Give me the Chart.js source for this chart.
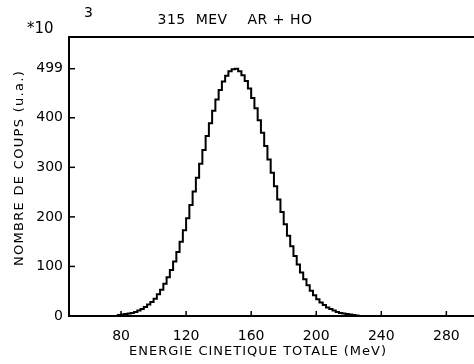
<!DOCTYPE html>
<html>
<head>
<meta charset="utf-8">
<script src="https://cdn.jsdelivr.net/npm/chart.js@4"></script>
<style>
html,body{margin:0;padding:0;background:#fff;}
#wrap{width:474px;height:364px;position:relative;}
</style>
</head>
<body>
<div id="wrap"><canvas id="c" width="474" height="364"></canvas></div>
<script>
// ---- data ----
const titleText = "315  MEV    AR + HO";
const xTitle = "ENERGIE CINETIQUE TOTALE (MeV)";
const yTitle = "NOMBRE DE COUPS (u.a.)";
const xTicks = [80, 120, 160, 200, 240, 280];
const yTicks = [0, 100, 200, 300, 400, 499];
// histogram bin left edges (MeV) and counts (x10^3)
const binEdges = [78,80,82,84,86,88,90,92,94,96,98,100,102,104,106,108,110,112,114,116,118,
  120,122,124,126,128,130,132,134,136,138,140,142,144,146,148,150,152,154,156,158,160,162,164,
  166,168,170,172,174,176,178,180,182,184,186,188,190,192,194,196,198,200,202,204,206,208,210,
  212,214,216,218,220,222,224,226,228];
const counts = [0,2,3,4,5,6,8,11,14,18,23,28,35,44,53,65,78,93,110,129,150,
  173,197,224,251,279,307,335,363,389,414,437,456,473,485,494,498,499,494,486,474,459,440,419,
  395,370,343,316,289,262,235,210,185,162,141,121,104,88,74,62,51,42,34,27,22,17,14,
  11,8,6,5,4,3,2,1,0];
const xMin = 48, xMax = 297, yMin = 0, yMax = 563;

const points = binEdges.map((e, i) => ({x: e, y: counts[i]}));

const FONT = "'DejaVu Sans', sans-serif";

const framePlugin = {
  id: 'frame',
  afterDraw(chart) {
    const ctx = chart.ctx, a = chart.chartArea;
    const xs = chart.scales.x, ys = chart.scales.y;
    ctx.save();
    ctx.strokeStyle = '#000';
    ctx.lineWidth = 2;
    // top frame line
    ctx.beginPath(); ctx.moveTo(a.left - 1, a.top); ctx.lineTo(a.right, a.top); ctx.stroke();
    // inward tick marks
    ctx.lineWidth = 1.5;
    xTicks.forEach(v => {
      const p = xs.getPixelForValue(v);
      ctx.beginPath(); ctx.moveTo(p, a.bottom); ctx.lineTo(p, a.bottom - 5); ctx.stroke();
    });
    yTicks.forEach(v => {
      const p = ys.getPixelForValue(v);
      ctx.beginPath(); ctx.moveTo(a.left, p); ctx.lineTo(a.left + 6, p); ctx.stroke();
    });
    // texts
    ctx.fillStyle = '#000';
    ctx.textBaseline = 'middle';
    ctx.font = "14px " + FONT;
    ctx.textAlign = 'center';
    ctx.letterSpacing = '0.5px';
    ctx.fillText(titleText, 235, 20);
    ctx.letterSpacing = '0px';
    ctx.textAlign = 'left';
    ctx.font = "15px " + FONT;
    ctx.fillText("*10", 27, 29);
    ctx.font = "14px " + FONT;
    ctx.fillText("3", 84, 13);
    ctx.textAlign = 'center';
    ctx.font = "13px " + FONT;
    ctx.letterSpacing = '1px';
    ctx.fillText(xTitle, 258, 352);
    ctx.translate(20, 168);
    ctx.rotate(-Math.PI / 2);
    ctx.letterSpacing = '1.3px';
    ctx.fillText(yTitle, 0, 0);
    ctx.restore();
  }
};

new Chart(document.getElementById('c'), {
  type: 'line',
  data: {
    datasets: [{
      data: points,
      stepped: 'after',
      borderColor: '#000',
      borderWidth: 2,
      pointRadius: 0,
      fill: false,
      tension: 0
    }]
  },
  options: {
    responsive: false,
    animation: false,
    devicePixelRatio: 1,
    layout: {padding: {top: 37, right: 0, left: 0, bottom: 0}},
    plugins: {legend: {display: false}, tooltip: {enabled: false}, title: {display: false}},
    scales: {
      x: {
        type: 'linear', min: xMin, max: xMax,
        afterBuildTicks: s => { s.ticks = xTicks.map(v => ({value: v})); },
        afterFit: s => { s.height = 48; },
        grid: {display: false, drawTicks: false},
        border: {display: true, color: '#000', width: 2},
        ticks: {color: '#000', padding: 12, font: {family: FONT, size: 14}, maxRotation: 0,
                callback: v => String(v)}
      },
      y: {
        type: 'linear', min: yMin, max: yMax,
        afterBuildTicks: s => { s.ticks = yTicks.map(v => ({value: v})); },
        afterFit: s => { s.width = 69; },
        grid: {display: false, drawTicks: false},
        border: {display: true, color: '#000', width: 2},
        ticks: {color: '#000', padding: 6, font: {family: FONT, size: 14},
                callback: v => String(v)}
      }
    }
  },
  plugins: [framePlugin]
});
</script>
</body>
</html>
